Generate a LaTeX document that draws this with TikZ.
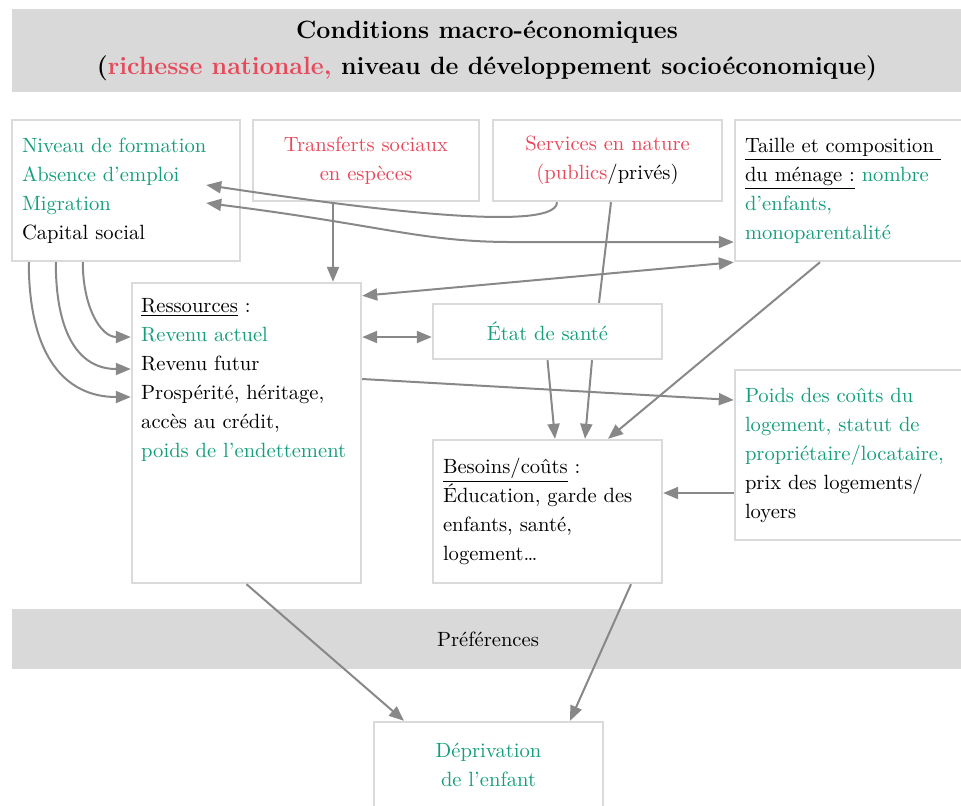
\documentclass[tikz,border=0pt]{standalone}
\usepackage{fontspec}
\usepackage{xcolor}
\usepackage{tikz}
\usetikzlibrary{arrows.meta,positioning,calc}

\definecolor{ocgreen}{RGB}{20,158,124}
\definecolor{ocred}{RGB}{232,72,90}
\definecolor{bandgray}{RGB}{217,217,217}
\definecolor{boxgray}{RGB}{218,218,218}
\definecolor{arrgray}{RGB}{136,136,136}
\newcommand{\txtgreen}[1]{\textcolor{ocgreen}{#1}}
\newcommand{\txtred}[1]{\textcolor{ocred}{#1}}

\begin{document}
\begin{tikzpicture}[x=0.5pt, y=-0.5pt, font=\fontsize{10.3}{14.5}\selectfont,
  box/.style={draw=boxgray, line width=1.2pt, fill=white, inner xsep=5pt, inner ysep=4pt},
  band/.style={fill=bandgray, inner sep=0pt},
  conn/.style={draw=arrgray, line width=1pt},
  arr/.style={conn, -{Triangle[length=7.5pt,width=6pt]}},
  arrs/.style={conn, {Triangle[length=7.5pt,width=6pt]}-{Triangle[length=7.5pt,width=6pt]}}]
  \useasboundingbox (0,0) rectangle (961,805);
  \clip (0,0) rectangle (961,805);
  % Macro conditions
  \node[band, minimum width=475pt, minimum height=41.5pt, align=center,
        font=\bfseries\fontsize{12.5}{18}\selectfont] (macro) at (487,50.5)
    {Conditions macro-économiques\\(\txtred{richesse nationale,} niveau de développement socioéconomique)};
  % Top row
  \node[box, text width=104pt, align=left, minimum height=70.5pt] (niv) at (126,190.5)
    {\txtgreen{Niveau de formation}\\ \txtgreen{Absence d’emploi}\\ \txtgreen{Migration}\\ Capital social};
  \node[box, minimum width=113pt, minimum height=40.5pt, align=center] (trans) at (366,160.5)
    {\txtred{Transferts sociaux}\\ \txtred{en espèces}};
  \node[box, minimum width=114.5pt, minimum height=40.5pt, align=center] (serv) at (607.5,160.5)
    {\txtred{Services en nature}\\ \txtred{(publics}/privés)};
  \node[box, text width=110pt, align=left, minimum height=70.5pt] (taille) at (855,190.5)
    {\underline{Taille et composition }\\ \underline{du ménage :} \txtgreen{nombre}\\ \txtgreen{d’enfants,}\\ \txtgreen{monoparentalité}};
  % Middle
  \node[box, minimum width=114.5pt, minimum height=150pt] (ress) at (246.5,433) {};
  \node[anchor=north west, inner sep=0pt, align=left] (resstxt) at ($(ress.north west)+(10,16)$)
    {\underline{Ressources} :\\ \txtgreen{Revenu actuel}\\ Revenu futur\\ Prospérité, héritage,\\ accès au crédit,\\ \txtgreen{poids de l’endettement}};
  \node[box, minimum width=114.5pt, minimum height=27.5pt] (etat) at (547.5,331.5) {\txtgreen{État de santé}};
  \node[box, text width=104.5pt, align=left, minimum height=71.5pt] (bes) at (547.5,511.5)
    {\underline{Besoins/coûts} :\\ Éducation, garde des\\ enfants, santé,\\ logement\ldots};
  \node[box, text width=110pt, align=left, minimum height=85pt] (poids) at (855,455)
    {\txtgreen{Poids des coûts du}\\ \txtgreen{logement, statut de}\\ \txtgreen{propriétaire/locataire,}\\ prix des logements/\\ loyers};
  % Bottom
  \node[band, minimum width=476pt, minimum height=30pt] (pref) at (488,639) {Préférences};
  \node[box, minimum width=114.5pt, minimum height=43pt, align=center] (depr) at (488.5,765)
    {\txtgreen{Déprivation}\\ \txtgreen{de l’enfant}};
  % Connectors
  \draw[arr] ($(serv.south)+(-50.5,0)$) .. controls +(0,34) and +(120,18) .. ($(niv.east)+(-35,-5.5)$);
  \draw[arrs] ($(niv.east)+(-35,12.5)$) .. controls +(175,22) and +(-90,0) .. ($(taille.west)+(-222,51.5)$)
    -- ($(taille.west)+(0,51.5)$);
  \draw[arrs] ($(ress.north east)+(0,14)$) -- (taille.south west);
  \draw[arr] ($(trans.south)+(-33,0)$) coordinate (tr) -- (tr |- ress.north);
  \draw[arrs] ($(etat.west)+(0,5.5)$) coordinate (ew) -- (ew -| ress.east);
  \draw[arr] ($(ress.east)+(0,-54)$) -- ($(poids.west)+(0,-55)$);
  \draw[arr] ($(taille.south)+(-35,0)$) -- ($(bes.north)+(60.5,0)$);
  \draw[arr] ($(poids.west)+(0,38)$) coordinate (pw) -- (pw -| bes.east);
  \draw[conn] ($(serv.south)+(3.5,0)$) -- ($(etat.north)+(51.5,0)$);
  \draw[arr] (etat.south) -- ($(bes.north)+(7.5,0)$);
  \draw[arr] ($(etat.south)+(44.5,0)$) -- ($(bes.north)+(37.5,0)$);
  \foreach \dx/\dy/\a/\b in {72/-96/45/30, 45/-64/75/50, 18/-36/95/65}{
    \draw[arr] ($(niv.south west)+(\dx,0)$) .. controls +(0,\a) and +(-\b,0) .. ($(ress.west)+(0,\dy)$);
  }
  \draw[arr] (ress.south) -- ($(depr.north)+(-84.5,0)$);
  \draw[arr] ($(bes.south)+(83.5,0)$) -- ($(depr.north)+(81.5,0)$);
\end{tikzpicture}
\end{document}
